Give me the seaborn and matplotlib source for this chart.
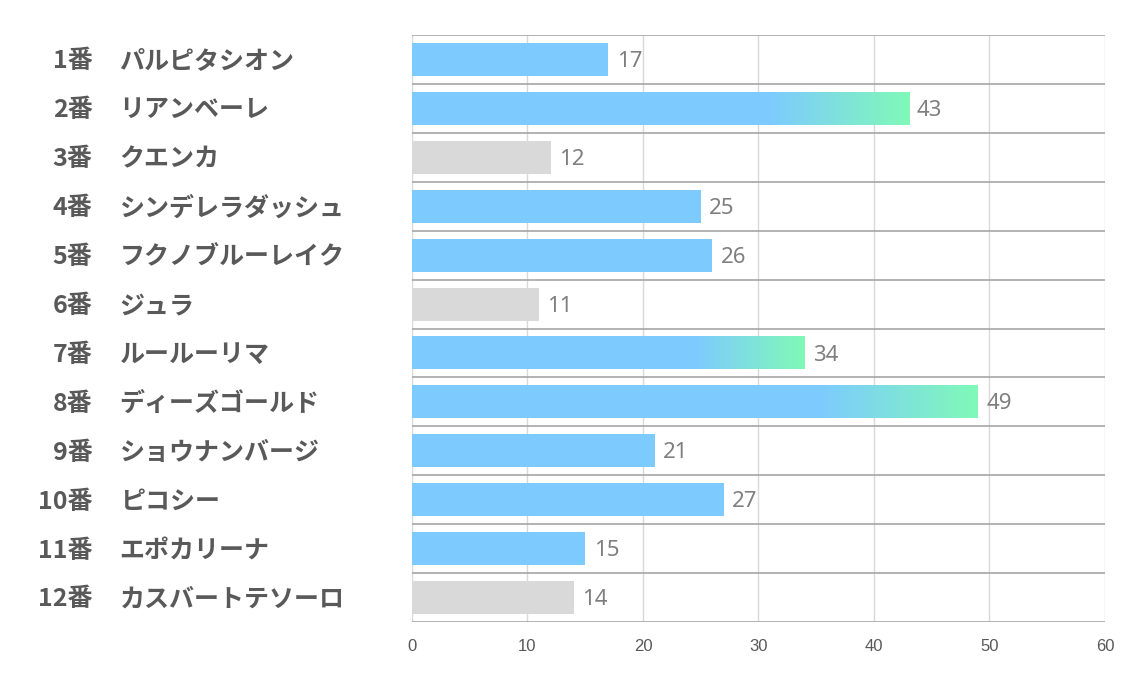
import matplotlib
matplotlib.use("Agg")
import matplotlib.pyplot as plt
import seaborn as sns
import numpy as np
import pandas as pd
from matplotlib.colors import LinearSegmentedColormap

# ── DATA ──────────────────────────────────────────────────────────────────────
numbers = ["1番", "2番", "3番", "4番", "5番", "6番",
           "7番", "8番", "9番", "10番", "11番", "12番"]
horses = ["パルピタシオン", "リアンベーレ", "クエンカ", "シンデレラダッシュ",
          "フクノブルーレイク", "ジュラ", "ルールーリマ", "ディーズゴールド",
          "ショウナンバージ", "ピコシー", "エポカリーナ", "カスバートテソーロ"]
values = [17, 43, 12, 25, 26, 11, 34, 49, 21, 27, 15, 14]
# bar style: "blue" / "gray" / "grad" (blue → green)
kinds = ["blue", "grad", "gray", "blue", "blue", "gray",
         "grad", "grad", "blue", "blue", "blue", "gray"]
xticks = [0, 10, 20, 30, 40, 50, 60]

BLUE  = "#7DCBFE"
GREEN = "#80F9B8"
GRAY  = "#D9D9D9"
TEXT  = "#595959"
VALC  = "#7F7F7F"

df = pd.DataFrame({"num": numbers, "horse": horses, "value": values, "kind": kinds})
df["label"] = df["num"] + df["horse"]

sns.set_theme(style="white")
plt.rcParams["font.family"] = ["Noto Sans CJK JP", "DejaVu Sans"]

fig = plt.figure(figsize=(11.34, 6.8), dpi=100)
ax = fig.add_axes([0.3633, 0.0853, 0.6111, 0.8632])

palette = {k: (GRAY if k == "gray" else BLUE) for k in df["kind"]}
sns.barplot(data=df, x="value", y="label", hue="kind", palette=palette,
            orient="h", width=0.675, legend=False, ax=ax, saturation=1,
            edgecolor="none", dodge=False, zorder=3)

ax.set_xlim(0, 60)
ax.set_ylim(len(df) - 0.5, -0.5)

# gradient overlay on highlighted bars (last ~28% of the bar)
cmap = LinearSegmentedColormap.from_list("bg", [BLUE, GREEN])
grad = np.linspace(0, 1, 256).reshape(1, -1)
patches = sorted(ax.patches, key=lambda p: p.get_y())
for p, (_, row) in zip(patches, df.iterrows()):
    if row["kind"] != "grad":
        continue
    x0, y0, w, h = p.get_x(), p.get_y(), p.get_width(), p.get_height()
    xs = x0 + w * 0.72
    im = ax.imshow(grad, cmap=cmap, aspect="auto", zorder=4,
                   extent=[xs, x0 + w, y0 + h, y0], interpolation="bicubic")
    im.set_clip_path(p)

# value labels
for i, v in enumerate(df["value"]):
    ax.annotate(f"{v}", xy=(v, i), xytext=(6, -1.5), textcoords="offset points",
                va="center", ha="left", fontsize=16, color=VALC,
                family=["Noto Sans", "DejaVu Sans"])

# grid: light verticals, darker row separators
for x in xticks:
    ax.axvline(x, color="#D9D9D9", lw=1, zorder=1)
for y in np.arange(-0.5, len(df), 1.0):
    ax.axhline(y, color="#A6A6A6", lw=1.2, zorder=2)

for s in ax.spines.values():
    s.set_visible(False)

ax.set_xticks(xticks)
ax.set_xticklabels([str(t) for t in xticks], fontsize=12, color=TEXT,
                   family=["Liberation Sans Narrow", "Liberation Sans", "DejaVu Sans"])
ax.tick_params(axis="x", length=0, pad=12)
ax.set_yticks([])
ax.set_xlabel("")
ax.set_ylabel("")

# left labels: number right-aligned, name left-aligned
trans = ax.get_yaxis_transform()
for i, (n, h) in enumerate(zip(df["num"], df["horse"])):
    ax.text(-0.461, i + 0.04, n, transform=trans, ha="right", va="center",
            fontsize=18, fontweight="bold", color=TEXT, clip_on=False)
    ax.text(-0.422, i + 0.04, h, transform=trans, ha="left", va="center",
            fontsize=18, fontweight="bold", color=TEXT, clip_on=False)

fig.savefig("out.png", dpi=100)
